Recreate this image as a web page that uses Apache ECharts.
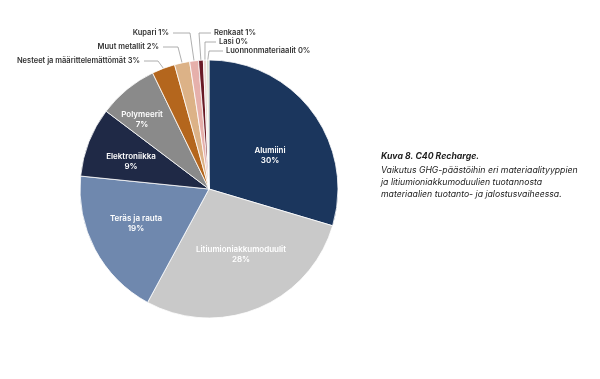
<!DOCTYPE html>
<html><head><meta charset="utf-8">
<script src="https://cdn.jsdelivr.net/npm/echarts@6/dist/echarts.min.js"></script>
<style>html,body{margin:0;padding:0;background:#fff}#c{width:600px;height:379px}</style>
</head><body><div id="c"></div>
<script>
// Data
var categories = ['Alumiini','Litiumioniakkumoduulit','Teräs ja rauta','Elektroniikka','Polymeerit','Nesteet ja määrittelemättömät','Muut metallit','Kupari','Renkaat','Lasi','Luonnonmateriaalit'];
var values = [29.6, 28.3, 18.7, 8.7, 7.5, 2.9, 1.9, 1.1, 0.6, 0.4, 0.3];
var shownPct = ['30%','28%','19%','9%','7%','3%','2%','1%','1%','0%','0%'];
var colors = ['#1b365d','#c9c9c9','#6f88ae','#1f2946','#8a8a8a','#b4661d','#dcb287','#e6b0ab','#6a1a25','#ead8d0','#d4dccb'];
var captionTitle = 'Kuva 8. C40 Recharge.';
var captionLines = ['Vaikutus GHG-päästöihin eri materiaalityyppien','ja litiumioniakkumoduulien tuotannosta','materiaalien tuotanto- ja jalostusvaiheessa.'];

// Layout (styling, not data)
var CX = 209, CY = 189, R = 129;
// inner label offsets from the pie centre
var innerOff = [[61,-33],[32,66],[-73,35],[-78,-27],[-67,-69]];
// outer label layout: textX, textY, align, bendX
var outerPos = {
  5: [140, 61, 'right', 158],
  6: [159, 47, 'right', 178],
  7: [169, 33, 'right', 190],
  8: [214, 33, 'left', 199],
  9: [219, 42, 'left', 205],
  10: [226, 51, 'left', 209]
};

var total = values.reduce(function(a,b){return a+b;},0);
var mids = [], acc = 0;
values.forEach(function(v){ mids.push((acc + v/2)/total*2*Math.PI); acc += v; });

var data = categories.map(function(n,i){
  var inner = i < 5;
  return {
    name: n, value: values[i],
    itemStyle: {color: colors[i]},
    label: inner ? {
      show: true, position: 'inside', color: '#fff', fontSize: 8, fontWeight: 600, lineHeight: 10,
      formatter: n + '\n' + shownPct[i]
    } : {
      show: true, position: 'outside', color: '#333', fontSize: 7.5, fontWeight: 600,
      formatter: n + ' ' + shownPct[i]
    },
    labelLine: {show: !inner, lineStyle: {color: '#9a9a9a', width: 0.8}}
  };
});

var chart = echarts.init(document.getElementById('c'));
chart.setOption({
  animation: false,
  textStyle: {fontFamily: 'Inter, Lato, sans-serif'},
  series: [{
    type: 'pie',
    center: [CX, CY], radius: [0, R],
    startAngle: 90, clockwise: true,
    avoidLabelOverlap: false,
    itemStyle: {borderColor: '#fff', borderWidth: 0.8},
    data: data,
    labelLayout: function(p){
      var i = p.dataIndex, a = mids[i];
      if (i < 5) {
        return {x: CX + innerOff[i][0], y: CY + innerOff[i][1], align: 'center', verticalAlign: 'middle'};
      }
      var o = outerPos[i];
      var ex = CX + R*Math.sin(a), ey = CY - R*Math.cos(a);
      var endX = o[2] === 'right' ? o[0] + 4 : o[0] - 3;
      return {
        x: o[0], y: o[1], align: o[2], verticalAlign: 'middle',
        labelLinePoints: [[ex, ey], [o[3], o[1]], [endX, o[1]]]
      };
    }
  }],
  graphic: [{
    type: 'text', left: 381, top: 152,
    style: {text: captionTitle, font: 'italic bold 8.7px Inter, Lato, sans-serif', fill: '#222'}
  }].concat(captionLines.map(function(t,k){
    return {type: 'text', left: 381, top: 165.5 + k*12.3,
      style: {text: t, font: 'italic 8.7px Inter, Lato, sans-serif', fill: '#222'}};
  }))
});
</script></body></html>
